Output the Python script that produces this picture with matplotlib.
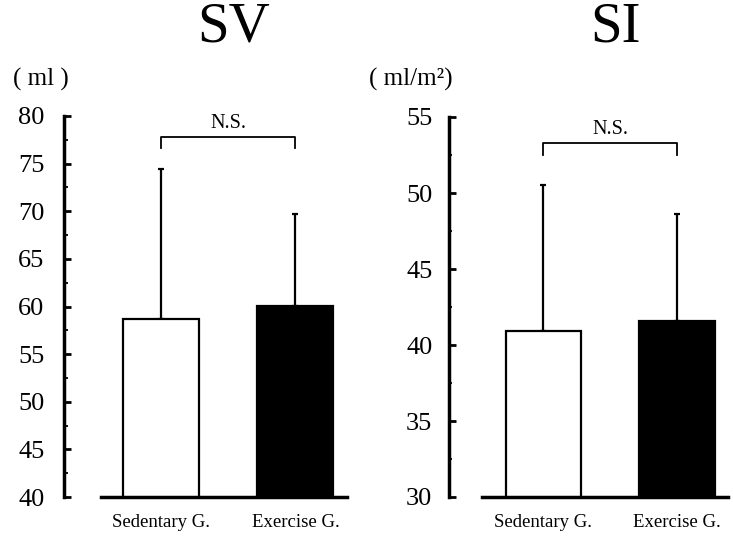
import matplotlib
matplotlib.use("Agg")
import matplotlib.pyplot as plt
from matplotlib.ticker import MultipleLocator

# ── data ────────────────────────────────────────────────────
groups = ["Sedentary G.", "Exercise G."]
sv_mean = [58.7, 60.1]
sv_upper = [74.4, 69.7]     # mean + SD
si_mean = [40.9, 41.6]
si_upper = [50.5, 48.6]     # mean + SD

plt.rcParams["font.family"] = ["Liberation Serif", "DejaVu Serif"]

W, H = 733, 540
fig = plt.figure(figsize=(W / 100, H / 100), dpi=100)
fig.patch.set_facecolor("white")


def panel(rect, means, uppers, ylim, xlim, base_lim, bracket, label_pad,
          minor_len):
    ax = fig.add_axes(rect)
    x = list(range(len(groups)))
    errs = [u - m for u, m in zip(uppers, means)]
    ax.bar(x, means, width=0.565, color=["white", "black"],
           edgecolor="black", linewidth=1.6, zorder=2)
    ax.errorbar(x, means, yerr=[[0] * len(errs), errs], fmt="none",
                ecolor="black", elinewidth=1.6, capsize=2.5, capthick=1.6,
                zorder=1)
    top, drop = bracket
    ax.plot([x[0], x[0], x[1], x[1]], [drop, top, top, drop],
            color="black", lw=1.3)
    ax.annotate("N.S.", xy=((x[0] + x[1]) / 2, top), xytext=(0, 3),
                textcoords="offset points", ha="center", va="bottom",
                fontsize=14.5)

    ax.set_xlim(*xlim)
    ax.set_ylim(*ylim)
    ax.set_xticks(x)
    ax.set_xticklabels(groups, fontsize=13.5)
    ax.tick_params(axis="x", length=0, pad=12)
    ax.yaxis.set_major_locator(MultipleLocator(5))
    ax.yaxis.set_minor_locator(MultipleLocator(2.5))
    ax.tick_params(axis="y", which="major", direction="in", length=5,
                   width=2, labelsize=19, pad=label_pad)
    ax.tick_params(axis="y", which="minor", direction="in", length=minor_len,
                   width=1.3)
    for s in ("top", "right"):
        ax.spines[s].set_visible(False)
    ax.spines["left"].set_linewidth(2.5)
    ax.spines["bottom"].set_linewidth(2.5)
    ax.spines["bottom"].set_bounds(*base_lim)
    ax.patch.set_alpha(0)
    return ax


panel([64 / W, 43 / H, 292 / W, 381 / H], sv_mean, sv_upper,
      (40, 80), (-0.721, 1.45), (-0.446, 1.383), (77.8, 76.6), 14, 3)
panel([449 / W, 43 / H, 283 / W, 380 / H], si_mean, si_upper,
      (30, 55), (-0.705, 1.41), (-0.459, 1.377), (53.3, 52.5), 12, 2)

fig.text(234 / W, 1 - 27 / H, "SV", ha="center", va="center", fontsize=41)
fig.text(615 / W, 1 - 27 / H, "SI", ha="center", va="center", fontsize=41)
fig.text(41 / W, 1 - 79 / H, "( ml )", ha="center", va="center", fontsize=18)
fig.text(411 / W, 1 - 79 / H, "( ml/m²)", ha="center", va="center", fontsize=18)

fig.savefig("out.png", dpi=100)
